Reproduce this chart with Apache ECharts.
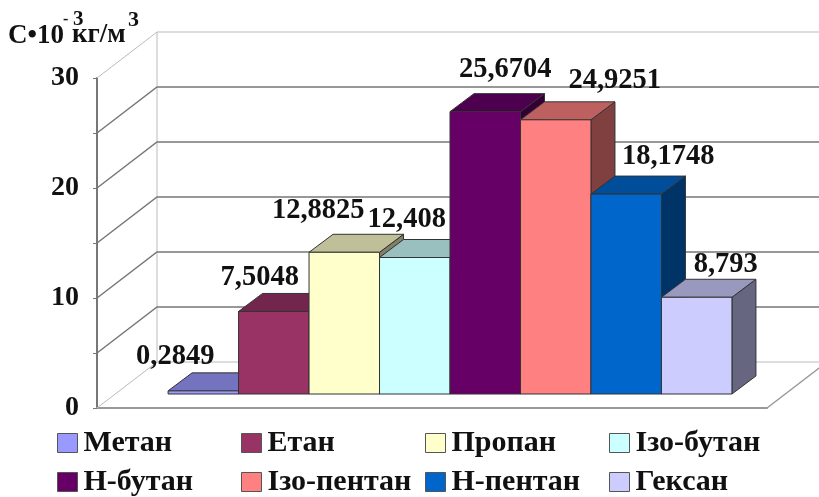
<!DOCTYPE html>
<html>
<head>
<meta charset="utf-8">
<style>
html, body { margin: 0; padding: 0; background: #fff; overflow: hidden; }
#chart { width: 819px; height: 497px; }
</style>
<script src="https://cdn.jsdelivr.net/npm/echarts@6/dist/echarts.min.js"></script>
</head>
<body>
<div id="chart"></div>
<script>
// data
var categories = [''];
var seriesNames = ['Метан', 'Етан', 'Пропан', 'Ізо-бутан', 'Н-бутан', 'Ізо-пентан', 'Н-пентан', 'Гексан'];
var seriesValues = [0.2849, 7.5048, 12.8825, 12.408, 25.6704, 24.9251, 18.1748, 8.793];
var gridValues = [0, 5, 10, 15, 20, 25, 30];
var tickLabels = [0, 10, 20, 30];

// styles
var seriesColors = ['#9999FF', '#993366', '#FFFFCC', '#CCFFFF', '#660066', '#FF8080', '#0066CC', '#CCCCFF'];
var topColors = ['#7373BF', '#73264D', '#BFBF99', '#99BFBF', '#4D004D', '#BF6060', '#004D99', '#9999BF'];
var sideColors = ['#4D4D80', '#4D1A33', '#808066', '#668080', '#330033', '#804040', '#003366', '#666680'];
var labelShiftX = [-28, -14, -26, -8, 20, 59, 42, 29];
var labelShiftY = [-34, -34, -42, -38, -42, -39, -37, -33];
var legendLeft = [57, 241, 425, 609];
var legendTop = [428, 467];

var FONT = '"Liberation Serif", "Times New Roman", serif';
var WALL_DX = 60, WALL_DY = -46;    // back wall offset from the front plane
var BAR_DX = 18, BAR_DY = -14;      // bars stand a bit behind the front plane
var DEPTH_DX = 24, DEPTH_DY = -18;  // bar depth
var BAR_SHARE = 0.1052;             // one bar as a share of the floor width

function face(points, fill) {
    return {
        type: 'polygon',
        shape: { points: points },
        style: { fill: fill, stroke: '#333', lineWidth: 1 }
    };
}

function renderBar(params, api) {
    var i = params.seriesIndex - 1;
    var value = api.value(1);
    var top = api.coord([0, value]);
    var base = api.coord([0, 0]);
    var w = api.size([1, 0])[0] * BAR_SHARE;
    var x0 = top[0] + BAR_DX + (i - 4) * w;
    var x1 = x0 + w;
    var y0 = top[1] + BAR_DY;
    var y1 = base[1] + BAR_DY;
    return {
        type: 'group',
        children: [
            face([[x1, y1], [x1 + DEPTH_DX, y1 + DEPTH_DY], [x1 + DEPTH_DX, y0 + DEPTH_DY], [x1, y0]], sideColors[i]),
            face([[x0, y0], [x1, y0], [x1 + DEPTH_DX, y0 + DEPTH_DY], [x0 + DEPTH_DX, y0 + DEPTH_DY]], topColors[i]),
            face([[x0, y0], [x1, y0], [x1, y1], [x0, y1]], seriesColors[i]),
            {
                type: 'text',
                z2: 100,
                style: {
                    text: String(value).replace('.', ','),
                    x: (x0 + x1) / 2 + labelShiftX[i],
                    y: y0 + labelShiftY[i],
                    align: 'center',
                    verticalAlign: 'middle',
                    fontFamily: FONT,
                    fontWeight: 'bold',
                    fontSize: 28.5,
                    fill: '#111'
                }
            }
        ]
    };
}

// back wall and left wall lines, one per grid value
function renderWall(params, api) {
    var rect = params.coordSys;
    var v = api.value(0);
    var y = api.coord([0, v])[1];
    var faint = v === 0 || v === 30;
    var color = faint ? '#bbb' : '#777';
    var lines = [{
        type: 'polyline',
        shape: { points: [[rect.x, y], [rect.x + WALL_DX, y + WALL_DY], [rect.x + rect.width + WALL_DX, y + WALL_DY]] },
        style: { fill: null, stroke: color, lineWidth: faint ? 1 : 1.5 }
    }];
    if (v === 0) {
        lines.push({
            type: 'line',
            shape: { x1: rect.x + WALL_DX, y1: y + WALL_DY, x2: rect.x + WALL_DX, y2: rect.y + WALL_DY },
            style: { stroke: '#bbb', lineWidth: 1 }
        });
        lines.push({
            type: 'line',
            shape: { x1: rect.x + rect.width, y1: y, x2: rect.x + rect.width + WALL_DX, y2: y + WALL_DY },
            style: { stroke: '#999', lineWidth: 1.5 }
        });
    }
    return { type: 'group', children: lines };
}

var series = [{
    name: 'walls',
    type: 'custom',
    renderItem: renderWall,
    data: gridValues.map(function (v) { return [v]; }),
    encode: { y: 0 },
    silent: true,
    clip: false
}];
seriesNames.forEach(function (name, i) {
    series.push({
        name: name,
        type: 'custom',
        renderItem: renderBar,
        data: [[0, seriesValues[i]]],
        encode: { x: 0, y: 1 },
        itemStyle: { color: seriesColors[i] },
        clip: false
    });
});

var legends = seriesNames.map(function (name, i) {
    return {
        data: [name],
        left: legendLeft[i % 4],
        top: legendTop[Math.floor(i / 4)],
        padding: 0,
        itemWidth: 20,
        itemHeight: 19,
        icon: 'rect',
        selectedMode: false,
        itemStyle: { borderColor: '#555', borderWidth: 1 },
        textStyle: { fontFamily: FONT, fontWeight: 'bold', fontSize: 30, color: '#111', padding: [0, 0, 0, 1] }
    };
});

function unitText(text, left, top, size) {
    return {
        type: 'text',
        left: left,
        top: top,
        style: { text: text, fontFamily: FONT, fontWeight: 'bold', fontSize: size, fill: '#111' }
    };
}

var chart = echarts.init(document.getElementById('chart'));
chart.setOption({
    animation: false,
    backgroundColor: '#fff',
    grid: { left: 97, right: 52, top: 78, bottom: 89 },
    legend: legends,
    graphic: [
        unitText('С•10', 8, 23, 27),
        unitText('-', 63, 12, 16),
        unitText('3', 73, 9, 21),
        unitText('кг/м', 72, 22, 27),
        unitText('3', 128, 9, 22)
    ],
    xAxis: {
        type: 'category',
        data: categories,
        axisLabel: { show: false },
        axisTick: { show: false },
        axisLine: { lineStyle: { color: '#999', width: 2 } }
    },
    yAxis: {
        type: 'value',
        min: 0,
        max: 30,
        interval: 5,
        splitLine: { show: false },
        axisLine: { show: true, onZero: false, lineStyle: { color: '#777', width: 2 } },
        axisTick: { show: true, length: 4, lineStyle: { color: '#777' } },
        axisLabel: {
            margin: 18,
            fontFamily: FONT,
            fontWeight: 'bold',
            fontSize: 28,
            color: '#111',
            formatter: function (v) { return tickLabels.indexOf(v) >= 0 ? String(v) : ''; }
        }
    },
    series: series
});
</script>
</body>
</html>
